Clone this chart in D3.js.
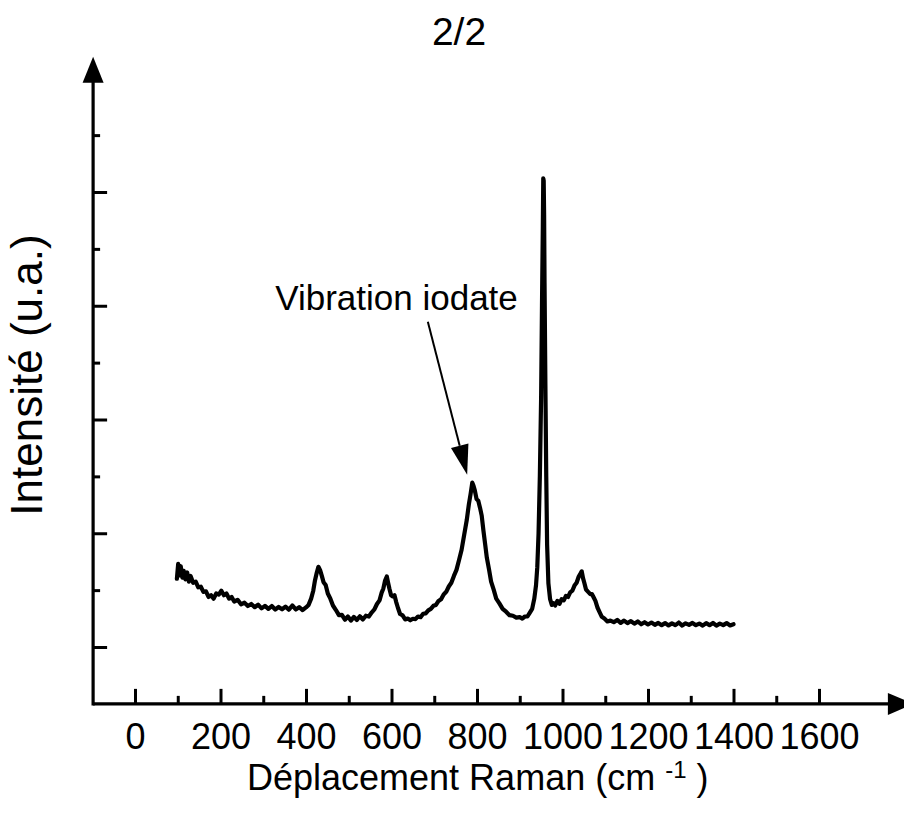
<!DOCTYPE html>
<html>
<head>
<meta charset="utf-8">
<script src="https://cdn.jsdelivr.net/npm/d3@7"></script>
<style>
  html, body { margin: 0; padding: 0; background: #fff; }
  svg { display: block; font-family: "Liberation Sans", Arial, Helvetica, sans-serif; }
</style>
</head>
<body>
<svg id="chart" width="904" height="820"></svg>
<script>
// ---- data ----
const title = "2/2";
const xLabel = "Déplacement Raman (cm";
const xLabelSup = "-1";
const yLabel = "Intensité (u.a.)";
const annotationText = "Vibration iodate";

const xMajorTicks = [0, 200, 400, 600, 800, 1000, 1200, 1400, 1600];
const xMinorTicks = [100, 300, 500, 700, 900, 1100, 1300, 1500];
const yMajorTicks = [1000, 2000, 3000, 4000, 5000];
const yMinorTicks = [1500, 2500, 3500, 4500, 5500];

const wavenumber = [
  98,101,104,107,111,114,118,122,126,130,136,142,148,154,160,166,172,178,184,190,
  196,202,208,214,220,226,232,240,248,256,264,272,280,288,296,304,312,320,328,336,
  344,352,360,368,376,384,392,400,406,412,417,421,425,429,433,437,441,446,451,457,
  463,470,477,484,491,498,505,512,519,526,533,540,547,554,560,566,572,577,581,585,
  589,592,595,599,603,607,611,615,620,626,632,638,644,650,656,662,668,674,680,686,
  692,698,704,710,716,722,728,734,740,746,752,758,764,770,776,781,785,789,792,795,
  799,803,807,811,815,819,823,828,833,839,845,852,860,868,876,884,892,900,906,912,
  918,924,929,934,938,941,944,947,950,952,954,955,956,957,958,960,962,964,967,971,
  975,979,983,988,993,998,1003,1008,1013,1018,1023,1028,1033,1038,1042,1045,1048,1051,1055,1060,
  1065,1069,1073,1077,1082,1087,1092,1098,1105,1112,1120,1128,1136,1144,1152,1160,1168,1176,1184,1192,
  1200,1208,1216,1224,1232,1240,1248,1256,1264,1272,1280,1288,1296,1304,1312,1320,1328,1336,1344,1352,
  1360,1368,1376,1384,1392,1400
];
const intensity = [
  1600,1730,1630,1710,1610,1670,1595,1655,1575,1625,1565,1575,1525,1530,1485,1490,1440,1455,1425,1470,
  1460,1495,1455,1470,1425,1440,1400,1415,1375,1390,1360,1378,1350,1372,1340,1362,1335,1360,1330,1352,
  1332,1355,1328,1365,1330,1350,1325,1348,1370,1425,1495,1585,1650,1705,1675,1625,1570,1545,1470,1425,
  1365,1325,1280,1282,1240,1268,1232,1265,1238,1270,1242,1275,1268,1305,1330,1378,1410,1478,1515,1585,
  1620,1565,1515,1455,1445,1455,1395,1345,1290,1278,1242,1250,1235,1248,1245,1268,1262,1292,1295,1322,
  1335,1362,1370,1405,1420,1462,1485,1532,1565,1625,1678,1765,1855,1985,2115,2255,2345,2445,2415,2375,
  2300,2285,2225,2155,2025,1905,1785,1685,1575,1505,1425,1385,1335,1310,1280,1275,1258,1262,1250,1268,
  1268,1305,1335,1425,1540,1700,2000,2500,3200,4000,4700,5120,5100,4800,4200,3300,2500,1900,1560,1420,
  1370,1385,1365,1405,1380,1420,1410,1450,1440,1480,1495,1540,1565,1620,1645,1665,1605,1565,1505,1485,
  1465,1465,1435,1405,1345,1305,1265,1250,1225,1232,1218,1238,1212,1232,1210,1228,1205,1225,1200,1218,
  1198,1215,1195,1212,1192,1210,1190,1208,1192,1215,1188,1208,1195,1212,1192,1206,1188,1210,1192,1212,
  1188,1205,1192,1210,1190,1200
];

// axis extents (data units)
const xAxisStart = -98, xAxisEnd = 1822;
const yAxisStart = 500, yAxisEnd = 6190;

// annotation anchors (data units)
const annotationPos = [328, 3965];
const annotationArrowFrom = [685, 3860];
const annotationArrowTo = [777, 2514];

// ---- scales ----
const svg = d3.select("#chart");
const x = d3.scaleLinear().domain([0, 1600]).range([135, 819]);
const y = d3.scaleLinear().domain([1000, 5000]).range([647, 192]);

// ---- axes lines ----
const axisG = svg.append("g");
const x0 = x(xAxisStart), yb = y(yAxisStart);
axisG.append("line")
  .attr("x1", x0).attr("y1", yb)
  .attr("x2", x(xAxisEnd) - 20).attr("y2", yb)
  .attr("stroke", "#000").attr("stroke-width", 3.2);
axisG.append("path")
  .attr("d", d3.line()([[x(xAxisEnd), yb], [x(xAxisEnd) - 26, yb - 11], [x(xAxisEnd) - 26, yb + 11]]) + "Z")
  .attr("fill", "#000");
axisG.append("line")
  .attr("x1", x0).attr("y1", yb + 1.6)
  .attr("x2", x0).attr("y2", y(yAxisEnd) + 20)
  .attr("stroke", "#000").attr("stroke-width", 3.2);
axisG.append("path")
  .attr("d", d3.line()([[x0, y(yAxisEnd)], [x0 - 10.5, y(yAxisEnd) + 26], [x0 + 10.5, y(yAxisEnd) + 26]]) + "Z")
  .attr("fill", "#000");

// ---- ticks via d3 axes ----
const xMajor = svg.append("g").attr("transform", `translate(0,${yb})`)
  .call(d3.axisBottom(x).tickValues(xMajorTicks).tickSize(-15).tickPadding(20).tickFormat(d3.format("d")));
const xMinor = svg.append("g").attr("transform", `translate(0,${yb})`)
  .call(d3.axisBottom(x).tickValues(xMinorTicks).tickSize(-8).tickFormat(""));
const yMajor = svg.append("g").attr("transform", `translate(${x0},0)`)
  .call(d3.axisLeft(y).tickValues(yMajorTicks).tickSize(-14).tickFormat(""));
const yMinor = svg.append("g").attr("transform", `translate(${x0},0)`)
  .call(d3.axisLeft(y).tickValues(yMinorTicks).tickSize(-7).tickFormat(""));

[xMajor, xMinor, yMajor, yMinor].forEach(g => {
  g.select(".domain").remove();
  g.selectAll(".tick line").attr("stroke", "#000").attr("stroke-width", 3);
});
xMajor.selectAll(".tick text")
  .attr("fill", "#000")
  .attr("font-family", "Liberation Sans, Arial, sans-serif")
  .attr("font-size", 36)
  .attr("dy", null).attr("y", 749 - yb);

// ---- spectrum ----
const data = wavenumber.map((w, i) => [w, intensity[i]]);
svg.append("path")
  .datum(data)
  .attr("fill", "none")
  .attr("stroke", "#000")
  .attr("stroke-width", 4.2)
  .attr("stroke-linejoin", "round")
  .attr("stroke-linecap", "round")
  .attr("d", d3.line().x(d => x(d[0])).y(d => y(d[1])));

// ---- annotation ----
svg.append("text")
  .attr("x", x(annotationPos[0])).attr("y", y(annotationPos[1]))
  .attr("font-size", 35).attr("fill", "#000")
  .text(annotationText);
(function () {
  const ax = x(annotationArrowFrom[0]), ay = y(annotationArrowFrom[1]);
  const bx = x(annotationArrowTo[0]), by = y(annotationArrowTo[1]);
  const ang = Math.atan2(by - ay, bx - ax);
  const L = 30, W = 9;
  const px = bx - L * Math.cos(ang), py = by - L * Math.sin(ang);
  const nx = -Math.sin(ang), ny = Math.cos(ang);
  svg.append("line")
    .attr("x1", ax).attr("y1", ay).attr("x2", px).attr("y2", py)
    .attr("stroke", "#000").attr("stroke-width", 2);
  svg.append("path")
    .attr("d", `M${bx},${by} L${px + W * nx},${py + W * ny} L${px - W * nx},${py - W * ny} Z`)
    .attr("fill", "#000");
})();

// ---- titles ----
svg.append("text")
  .attr("x", 459).attr("y", 45)
  .attr("text-anchor", "middle").attr("font-size", 39).attr("fill", "#000")
  .text(title);

const xl = svg.append("text")
  .attr("x", 247).attr("y", 790)
  .attr("font-size", 36).attr("fill", "#000");
xl.append("tspan").text(xLabel + " ");
xl.append("tspan").attr("font-size", 24).attr("dy", -12).text(xLabelSup);
xl.append("tspan").attr("dy", 12).text(" )");

svg.append("text")
  .attr("transform", `translate(42,${(233 + 517) / 2}) rotate(-90)`)
  .attr("text-anchor", "middle").attr("font-size", 44).attr("fill", "#000")
  .text(yLabel);
</script>
</body>
</html>
